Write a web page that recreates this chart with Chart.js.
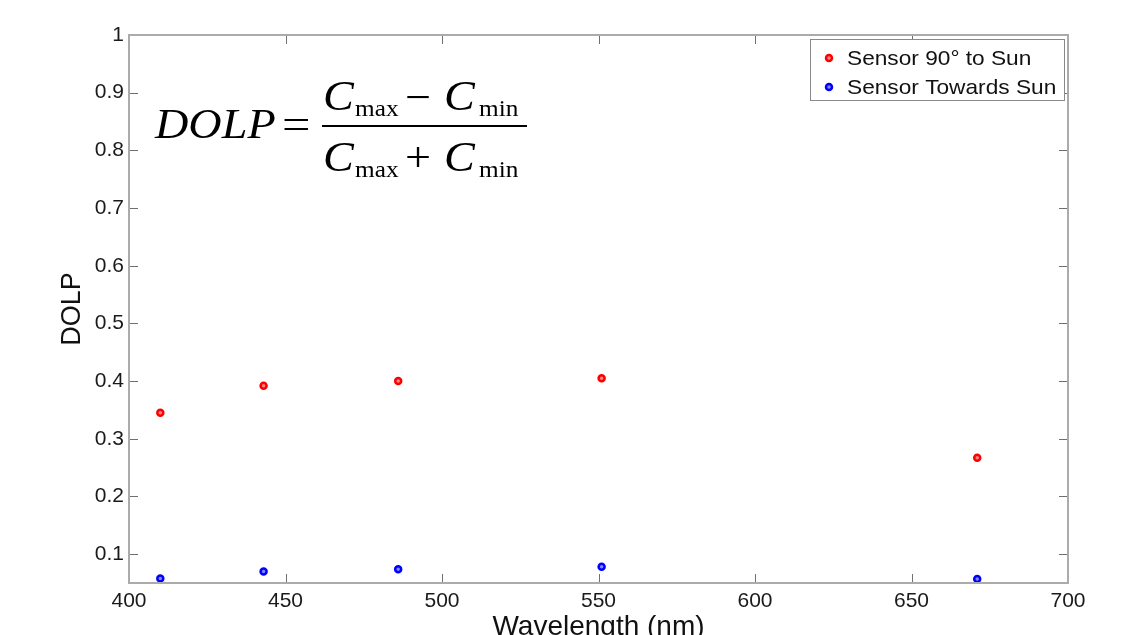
<!DOCTYPE html>
<html>
<head>
<meta charset="utf-8">
<script src="https://cdn.jsdelivr.net/npm/chart.js@4.4.0/dist/chart.umd.min.js"></script>
<style>
  html, body { margin: 0; padding: 0; background: #fff; }
  #wrap { position: relative; width: 1125px; height: 635px; overflow: hidden; }
</style>
</head>
<body>
<div id="wrap"><canvas id="dolpChart" width="1125" height="635"></canvas></div>
<script>
// datos
const wavelengths = [410, 443, 486, 551, 671];
const dolpSensor90 = [0.345, 0.392, 0.400, 0.405, 0.267];
const dolpTowardsSun = [0.058, 0.070, 0.074, 0.078, 0.057];
const seriesLabels = ['Sensor 90\u00B0 to Sun', 'Sensor Towards Sun'];
const seriesColors = ['#ff0000', '#0000ff'];
const seriesFills = ['rgba(255,120,120,0.9)', 'rgba(120,120,255,0.9)'];
const xTicks = [400, 450, 500, 550, 600, 650, 700];
const yTicks = [0.1, 0.2, 0.3, 0.4, 0.5, 0.6, 0.7, 0.8, 0.9, 1];

const SANS = '"Liberation Sans", Arial, sans-serif';
const SERIF = '"Liberation Serif", "Times New Roman", serif';

function toPoints(xs, ys) {
  return xs.map((x, i) => ({ x: x, y: ys[i] }));
}

// texto un poco estirado en horizontal, como en la figura original
function wideText(ctx, text, font, x, y, sx) {
  ctx.save();
  ctx.font = font;
  ctx.translate(x, y);
  ctx.scale(sx, 1);
  ctx.fillText(text, 0, 0);
  ctx.restore();
}

// caja + ticks hacia adentro (estilo matlab)
const boxTicks = {
  id: 'boxTicks',
  afterDatasetsDraw(chart) {
    const { ctx, chartArea: a, scales } = chart;
    ctx.save();
    ctx.strokeStyle = '#707070';
    ctx.lineWidth = 1;
    ctx.beginPath();
    xTicks.forEach(v => {
      const px = Math.round(scales.x.getPixelForValue(v)) + 0.5;
      ctx.moveTo(px, a.bottom); ctx.lineTo(px, a.bottom - 9);
      ctx.moveTo(px, a.top); ctx.lineTo(px, a.top + 9);
    });
    yTicks.forEach(v => {
      const py = Math.round(scales.y.getPixelForValue(v)) + 0.5;
      ctx.moveTo(a.left, py); ctx.lineTo(a.left + 9, py);
      ctx.moveTo(a.right, py); ctx.lineTo(a.right - 9, py);
    });
    ctx.stroke();
    ctx.strokeStyle = '#ababab';
    ctx.lineWidth = 2;
    ctx.strokeRect(a.left, a.top, a.right - a.left, a.bottom - a.top);
    ctx.restore();
  },
  afterDraw(chart) {
    const ctx = chart.ctx;
    ctx.save();
    // leyenda
    const lx = 810, ly = 39, lw = 254, lh = 61;
    ctx.fillStyle = '#fff';
    ctx.fillRect(lx, ly, lw, lh);
    ctx.strokeStyle = '#8a8a8a';
    ctx.lineWidth = 1;
    ctx.strokeRect(lx + 0.5, ly + 0.5, lw, lh);
    chart.data.datasets.forEach((ds, i) => {
      const cy = ly + 19 + i * 29;
      ctx.beginPath();
      ctx.arc(829, cy, 3, 0, Math.PI * 2);
      ctx.fillStyle = ds.backgroundColor;
      ctx.fill();
      ctx.lineWidth = 2.5;
      ctx.strokeStyle = ds.borderColor;
      ctx.stroke();
      ctx.fillStyle = '#111';
      ctx.textBaseline = 'middle';
      wideText(ctx, ds.label, '21px ' + SANS, 847, cy + 1, 1.08);
    });

    // formula DOLP
    ctx.fillStyle = '#000';
    ctx.textBaseline = 'alphabetic';
    const big = 'italic 42px ' + SERIF;
    const op = '42px ' + SERIF;
    const sub = '23px ' + SERIF;
    const sx = 1.1;
    wideText(ctx, 'DOLP', big, 155, 138, sx);
    wideText(ctx, '=', op, 282, 138, 1.2);
    // numerador
    wideText(ctx, 'C', big, 323, 110, sx);
    wideText(ctx, 'max', sub, 355, 116, sx);
    wideText(ctx, '\u2212', op, 405, 111, sx);
    wideText(ctx, 'C', big, 444, 110, sx);
    wideText(ctx, 'min', sub, 479, 116, sx);
    // linea
    ctx.fillRect(322, 125, 205, 2);
    // denominador
    wideText(ctx, 'C', big, 323, 171, sx);
    wideText(ctx, 'max', sub, 355, 177, sx);
    wideText(ctx, '+', op, 405, 171, sx);
    wideText(ctx, 'C', big, 444, 171, sx);
    wideText(ctx, 'min', sub, 479, 177, sx);
    ctx.restore();
  }
};

function makeDataset(i, ys) {
  return {
    label: seriesLabels[i],
    data: toPoints(wavelengths, ys),
    borderColor: seriesColors[i],
    backgroundColor: seriesFills[i],
    pointRadius: 3,
    pointBorderWidth: 2.5,
    pointHoverRadius: 3,
    showLine: false
  };
}

const ctx = document.getElementById('dolpChart').getContext('2d');
const chart = new Chart(ctx, {
  type: 'scatter',
  data: { datasets: [makeDataset(0, dolpSensor90), makeDataset(1, dolpTowardsSun)] },
  options: {
    responsive: false,
    animation: false,
    layout: { padding: { top: 35, right: 57, left: 0, bottom: 0 } },
    plugins: { legend: { display: false }, tooltip: { enabled: false } },
    scales: {
      x: {
        type: 'linear', min: 400, max: 700,
        afterBuildTicks: s => { s.ticks = xTicks.map(v => ({ value: v })); },
        afterFit: s => { s.height = 52; },
        grid: { display: false, drawTicks: false },
        border: { display: false },
        ticks: { color: '#1a1a1a', padding: 6, font: { family: SANS, size: 21 }, maxRotation: 0,
                 callback: v => String(v) },
        title: { display: true, text: 'Wavelength (nm)', color: '#111',
                 font: { family: SANS, size: 28, lineHeight: 1 }, padding: { top: 0, bottom: -6 } }
      },
      y: {
        type: 'linear', min: 0.05, max: 1,
        afterBuildTicks: s => { s.ticks = yTicks.map(v => ({ value: v })); },
        afterFit: s => { s.width = 129; },
        grid: { display: false, drawTicks: false },
        border: { display: false },
        ticks: { color: '#1a1a1a', padding: 5, font: { family: SANS, size: 21 },
                 callback: v => (v === 1 ? '1' : Number(v).toFixed(1)) },
        title: { display: true, text: 'DOLP', color: '#111',
                 font: { family: SANS, size: 27, lineHeight: 1 }, padding: { top: 59, bottom: 0 } }
      }
    }
  },
  plugins: [boxTicks]
});
</script>
</body>
</html>
